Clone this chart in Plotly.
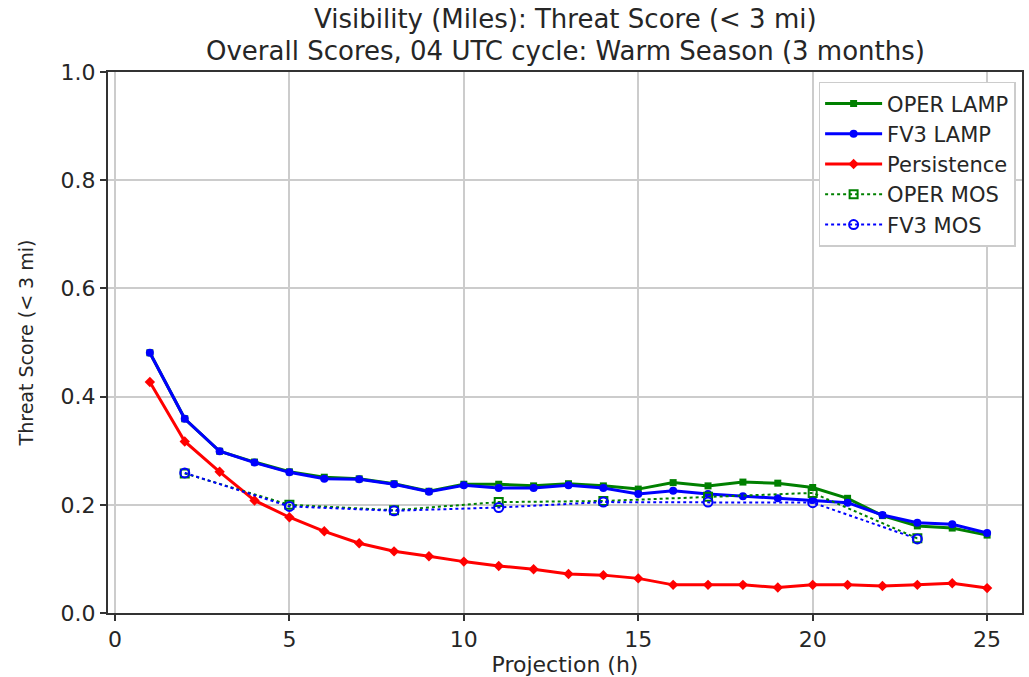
import plotly.graph_objects as go

hours = list(range(1, 26))
oper_lamp = [0.481, 0.359, 0.299, 0.279, 0.261, 0.251, 0.248, 0.239, 0.225, 0.238,
             0.238, 0.235, 0.239, 0.235, 0.229, 0.241, 0.235, 0.242, 0.240, 0.232,
             0.212, 0.180, 0.161, 0.157, 0.144]
fv3_lamp = [0.481, 0.359, 0.299, 0.278, 0.260, 0.248, 0.247, 0.238, 0.224, 0.236,
            0.231, 0.231, 0.236, 0.231, 0.220, 0.226, 0.220, 0.216, 0.212, 0.209,
            0.204, 0.181, 0.167, 0.164, 0.148]
persistence = [0.427, 0.317, 0.261, 0.208, 0.177, 0.151, 0.129, 0.114, 0.105, 0.095,
               0.087, 0.081, 0.072, 0.070, 0.064, 0.052, 0.052, 0.052, 0.047, 0.052,
               0.052, 0.050, 0.052, 0.055, 0.046]
mos_hours = [2, 5, 8, 11, 14, 17, 20, 23]
oper_mos = [0.258, 0.200, 0.190, 0.205, 0.207, 0.215, 0.222, 0.138]
fv3_mos = [0.259, 0.197, 0.189, 0.195, 0.205, 0.205, 0.204, 0.137]

x_ticks = [0, 5, 10, 15, 20, 25]
y_ticks = [0.0, 0.2, 0.4, 0.6, 0.8, 1.0]
title_lines = ["Visibility (Miles): Threat Score (< 3 mi)",
               "Overall Scores, 04 UTC cycle: Warm Season (3 months)"]

FONT = "DejaVu Sans"
TXT = "#262626"

fig = go.Figure()
fig.add_trace(go.Scatter(x=hours, y=oper_lamp, name="OPER LAMP", mode="lines+markers",
                         line=dict(color="#008000", width=3),
                         marker=dict(symbol="square", size=7, color="#008000")))
fig.add_trace(go.Scatter(x=hours, y=fv3_lamp, name="FV3 LAMP", mode="lines+markers",
                         line=dict(color="#0000ff", width=3),
                         marker=dict(symbol="circle", size=8, color="#0000ff")))
fig.add_trace(go.Scatter(x=hours, y=persistence, name="Persistence", mode="lines+markers",
                         line=dict(color="#ff0000", width=3),
                         marker=dict(symbol="diamond", size=8, color="#ff0000")))
fig.add_trace(go.Scatter(x=mos_hours, y=oper_mos, name="OPER MOS", mode="lines+markers",
                         line=dict(color="#008000", width=2, dash="dot"),
                         marker=dict(symbol="square-open", size=8, color="#008000",
                                     line=dict(width=2))))
fig.add_trace(go.Scatter(x=mos_hours, y=fv3_mos, name="FV3 MOS", mode="lines+markers",
                         line=dict(color="#0000ff", width=2, dash="dot"),
                         marker=dict(symbol="circle-open", size=9, color="#0000ff",
                                     line=dict(width=2))))

axis_common = dict(showline=True, linecolor="#333", linewidth=2, mirror=True,
                   ticks="outside", ticklen=6, tickwidth=1.5, tickcolor="#333",
                   showgrid=True, gridcolor="#cccccc", gridwidth=1.5, zeroline=False,
                   tickfont=dict(family=FONT, size=22, color=TXT))

# title as two centred lines above the plot area
title_y = [1.0976, 1.0387]
annotations = [dict(text=t, x=0.5, xref="paper", y=yy, yref="paper", xanchor="center",
                    yanchor="middle", showarrow=False,
                    font=dict(family=FONT, size=26, color=TXT))
               for t, yy in zip(title_lines, title_y)]

fig.update_layout(
    width=1029, height=677,
    margin=dict(l=108, r=5, t=72, b=62),
    paper_bgcolor="white", plot_bgcolor="white",
    font=dict(family=FONT, color=TXT),
    annotations=annotations,
    xaxis=dict(range=[-0.2, 26.0], tickvals=x_ticks, ticktext=[str(v) for v in x_ticks],
               title=dict(text="Projection (h)", font=dict(family=FONT, size=22, color=TXT),
                          standoff=4),
               **axis_common),
    yaxis=dict(range=[0, 1], tickvals=y_ticks, ticktext=[f"{v:.1f}" for v in y_ticks],
               title=dict(text="Threat Score (< 3 mi)", font=dict(family=FONT, size=19, color=TXT),
                          standoff=22),
               **axis_common),
    legend=dict(x=0.993, y=0.982, xanchor="right", yanchor="top",
                bgcolor="white", bordercolor="#cccccc", borderwidth=1.5,
                font=dict(family=FONT, size=21, color=TXT), tracegroupgap=0,
                itemwidth=57),
    showlegend=True,
)

fig.write_html("out.html")
